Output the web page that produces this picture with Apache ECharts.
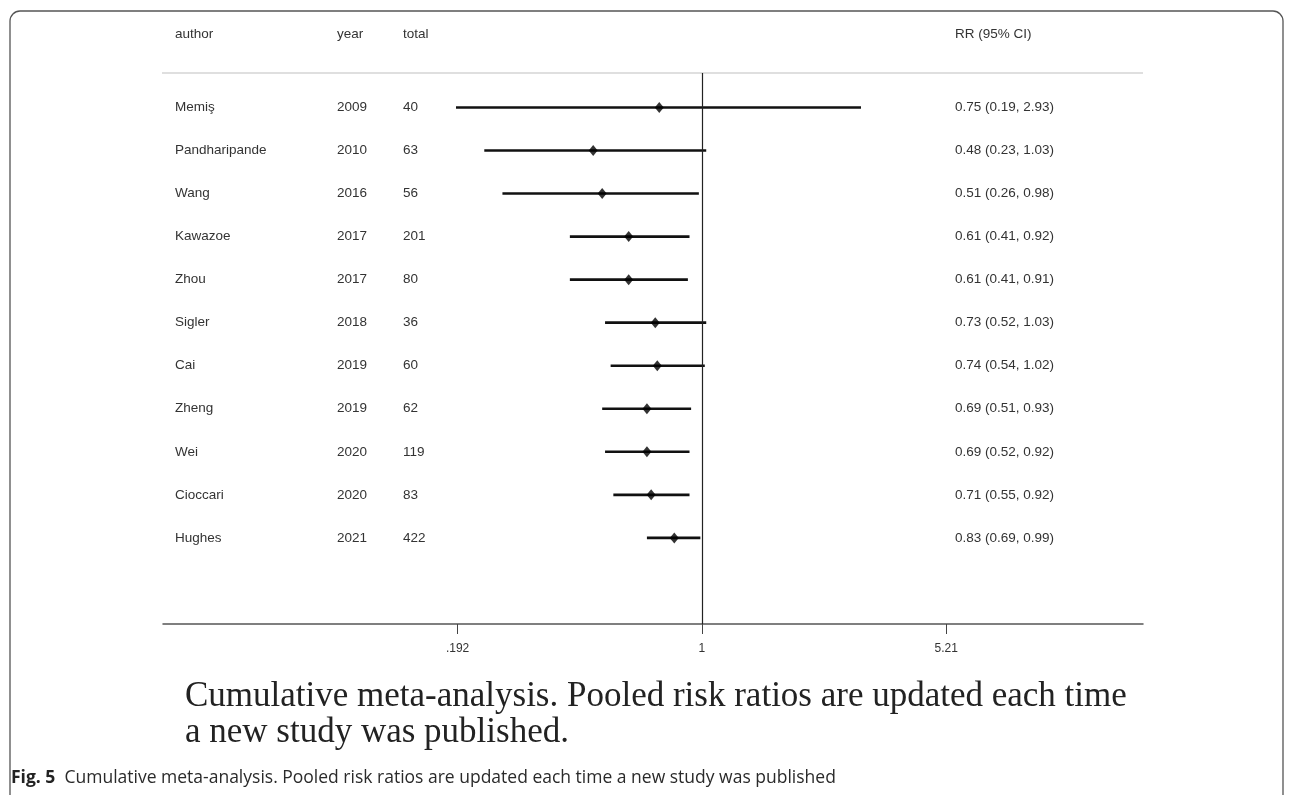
<!DOCTYPE html>
<html>
<head>
<meta charset="utf-8">
<script src="https://cdn.jsdelivr.net/npm/echarts@6/dist/echarts.min.js"></script>
<style>
html, body { margin: 0; padding: 0; background: #fff; }
#chart { width: 1290px; height: 795px; }
</style>
</head>
<body>
<div id="chart"></div>
<script>
// study rows, top to bottom
const authors = ['Memiş', 'Pandharipande', 'Wang', 'Kawazoe', 'Zhou', 'Sigler', 'Cai', 'Zheng', 'Wei', 'Cioccari', 'Hughes']
const years = [2009, 2010, 2016, 2017, 2017, 2018, 2019, 2019, 2020, 2020, 2021]
const totals = [40, 63, 56, 201, 80, 36, 60, 62, 119, 83, 422]
const rr = [0.75, 0.48, 0.51, 0.61, 0.61, 0.73, 0.74, 0.69, 0.69, 0.71, 0.83]
const ciLow = [0.19, 0.23, 0.26, 0.41, 0.41, 0.52, 0.54, 0.51, 0.52, 0.55, 0.69]
const ciHigh = [2.93, 1.03, 0.98, 0.92, 0.91, 1.03, 1.02, 0.93, 0.92, 0.92, 0.99]

// x axis ticks (log scale)
const tickValues = [0.192, 1, 5.21]
const tickLabels = ['.192', '1', '5.21']

const chart = echarts.init(document.getElementById('chart'))

const sans = 'Liberation Sans, Arial, sans-serif'
const serif = 'Liberation Serif, Times New Roman, serif'
const textColor = '#333'
// pixel x of the text columns
const colX = { author: 175, year: 337, total: 403, rr: 955 }

const ciRows = authors.map((a, i) => [Math.log(ciLow[i]), Math.log(ciHigh[i]), i])
const points = rr.map((v, i) => [Math.log(v), i])
const textRows = authors.map((a, i) => [0, i])

function tickLabel(v) {
  const idx = tickValues.findIndex(t => Math.abs(Math.log(t) - v) < 1e-6)
  return idx >= 0 ? tickLabels[idx] : ''
}

const option = {
  animation: false,
  backgroundColor: '#fff',
  grid: { left: 163, right: 147, top: 73, bottom: 171 },
  xAxis: {
    type: 'value',
    min: -3.64,
    max: 2.98,
    splitLine: { show: false },
    axisLine: { onZero: false, lineStyle: { color: '#555', width: 1.5 } },
    axisTick: {
      customValues: tickValues.map(Math.log),
      length: 10,
      lineStyle: { color: '#444', width: 1 }
    },
    axisLabel: {
      customValues: tickValues.map(Math.log),
      formatter: tickLabel,
      color: textColor,
      fontSize: 12,
      fontFamily: sans,
      margin: 19
    }
  },
  yAxis: { type: 'value', inverse: true, min: -0.8, max: 12, show: false },
  series: [
    {
      // confidence intervals
      type: 'custom',
      data: ciRows,
      renderItem: function (params, api) {
        const p1 = api.coord([api.value(0), api.value(2)])
        const p2 = api.coord([api.value(1), api.value(2)])
        return {
          type: 'line',
          shape: { x1: p1[0], y1: p1[1], x2: p2[0], y2: p2[1] },
          style: { stroke: '#111', lineWidth: 2.6 }
        }
      },
      markLine: {
        silent: true,
        symbol: 'none',
        label: { show: false },
        lineStyle: { color: '#222', width: 1.2, type: 'solid' },
        data: [{ xAxis: 0 }]
      }
    },
    {
      type: 'scatter',
      symbol: 'diamond',
      symbolSize: [9, 11],
      itemStyle: { color: '#000' },
      data: points
    },
    {
      // table columns
      type: 'custom',
      data: textRows,
      renderItem: function (params, api) {
        const i = params.dataIndex
        const y = api.coord([0, i])[1]
        const base = { fill: textColor, fontSize: 13.5, fontFamily: sans, verticalAlign: 'middle' }
        return {
          type: 'group',
          children: [
            { type: 'text', x: colX.author, y: y, style: Object.assign({ text: authors[i] }, base) },
            { type: 'text', x: colX.year, y: y, style: Object.assign({ text: String(years[i]) }, base) },
            { type: 'text', x: colX.total, y: y, style: Object.assign({ text: String(totals[i]) }, base) },
            { type: 'text', x: colX.rr, y: y, style: Object.assign({
              text: rr[i].toFixed(2) + ' (' + ciLow[i].toFixed(2) + ', ' + ciHigh[i].toFixed(2) + ')'
            }, base) }
          ]
        }
      }
    }
  ],
  graphic: [
    {
      type: 'rect',
      shape: { x: 10, y: 11, width: 1273, height: 900, r: 10 },
      style: { fill: 'none', stroke: '#555', lineWidth: 1.3 },
      silent: true
    },
    {
      type: 'line',
      shape: { x1: 162, y1: 73, x2: 1143, y2: 73 },
      style: { stroke: '#d4d4d4', lineWidth: 1.5 }
    },
    { type: 'text', x: colX.author, y: 34, style: { text: 'author', fill: textColor, fontSize: 13.5, fontFamily: sans, verticalAlign: 'middle' } },
    { type: 'text', x: colX.year, y: 34, style: { text: 'year', fill: textColor, fontSize: 13.5, fontFamily: sans, verticalAlign: 'middle' } },
    { type: 'text', x: colX.total, y: 34, style: { text: 'total', fill: textColor, fontSize: 13.5, fontFamily: sans, verticalAlign: 'middle' } },
    { type: 'text', x: colX.rr, y: 34, style: { text: 'RR (95% CI)', fill: textColor, fontSize: 13.5, fontFamily: sans, verticalAlign: 'middle' } },
    {
      type: 'text', x: 185, y: 697,
      style: {
        text: 'Cumulative meta-analysis. Pooled risk ratios are updated each time',
        fill: '#222', fontSize: 35, fontFamily: serif, verticalAlign: 'middle'
      }
    },
    {
      type: 'text', x: 185, y: 733,
      style: {
        text: 'a new study was published.',
        fill: '#222', fontSize: 35, fontFamily: serif, verticalAlign: 'middle'
      }
    },
    {
      type: 'text', x: 11, y: 778,
      style: {
        text: '{b|Fig. 5}  Cumulative meta-analysis. Pooled risk ratios are updated each time a new study was published',
        fill: '#2a2a2a', fontSize: 17.5, fontFamily: 'Open Sans, Noto Sans, sans-serif', verticalAlign: 'middle',
        rich: { b: { fontWeight: 'bold', fontSize: 17.5, fontFamily: 'Open Sans, Noto Sans, sans-serif', fill: '#222' } }
      }
    }
  ]
}

chart.setOption(option)
</script>
</body>
</html>
